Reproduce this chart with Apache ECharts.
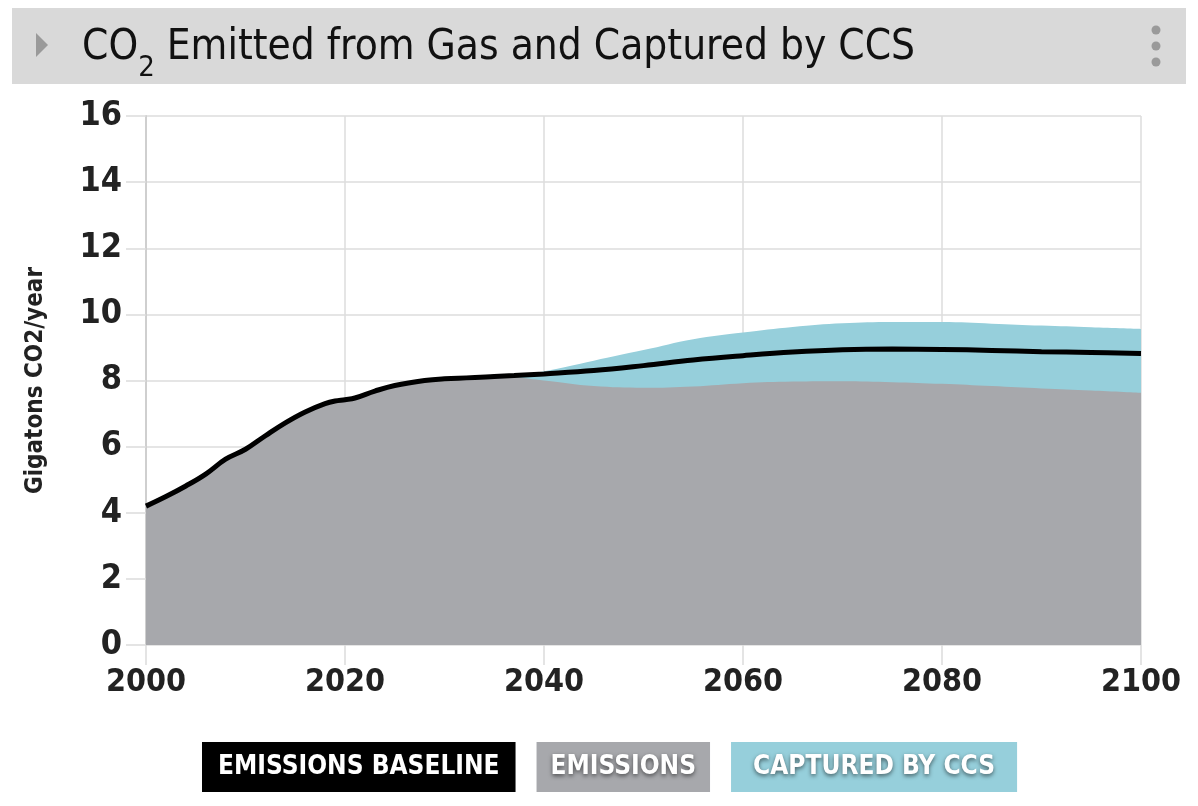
<!DOCTYPE html>
<html>
<head>
<meta charset="utf-8">
<script src="https://cdn.jsdelivr.net/npm/echarts@6/dist/echarts.min.js"></script>
<style>
html,body{margin:0;padding:0;background:#fff;}
#chart{width:1198px;height:806px;}
</style>
</head>
<body>
<div id="chart"></div>
<script>
const years = [2000,2002,2004,2006,2008,2010,2012,2014,2016,2018,2019,2020,2021,2023,2025,2028,2030,2035,2037,2040,2045,2050,2055,2060,2065,2070,2075,2080,2085,2090,2095,2100];
const baseline = [4.2,4.49,4.81,5.17,5.62,5.92,6.33,6.72,7.05,7.3,7.38,7.42,7.47,7.68,7.85,8.0,8.05,8.12,8.15,8.2,8.3,8.45,8.62,8.75,8.86,8.93,8.95,8.94,8.91,8.87,8.85,8.82];
const emissions = [4.2,4.49,4.81,5.17,5.62,5.92,6.33,6.72,7.05,7.3,7.38,7.42,7.47,7.68,7.85,8.0,8.05,8.12,8.1,8.0,7.83,7.78,7.82,7.92,7.97,7.98,7.95,7.9,7.83,7.76,7.7,7.63];
const captured = [0,0,0,0,0,0,0,0,0,0,0,0,0,0,0,0,0,0,0.03,0.28,0.77,1.14,1.43,1.53,1.65,1.75,1.82,1.87,1.89,1.9,1.91,1.93];
const xTicks = [2000,2020,2040,2060,2080,2100];
const yTicks = [0,2,4,6,8,10,12,14,16];
const seriesNames = ['EMISSIONS BASELINE','EMISSIONS','CAPTURED BY CCS'];

const pair = (arr) => years.map((y,i) => [y, arr[i]]);
// captured is stacked on top of emissions
const stackedTop = years.map((y,i) => [y, emissions[i] + captured[i]]);
const condensed = '"Liberation Sans Narrow","DejaVu Sans Condensed","Roboto",sans-serif';

const chart = echarts.init(document.getElementById('chart'));
chart.setOption({
  animation: false,
  backgroundColor: '#fff',
  title: {
    text: '{a|CO}{s|2}{a| Emitted from Gas and Captured by CCS}',
    left: 77, top: 22,
    textStyle: {
      fontWeight: 'normal',
      rich: {
        a: {fontFamily: condensed, fontSize: 42, fontWeight: 'normal', lineHeight: 48, color: '#111', verticalAlign: 'top'},
        s: {fontFamily: condensed, fontSize: 29, fontWeight: 'normal', lineHeight: 29, color: '#111', verticalAlign: 'bottom', padding: [0,0,-8,0]}
      }
    }
  },
  graphic: [
    {type: 'rect', z: -1, shape: {x: 12, y: 8, width: 1174, height: 76}, style: {fill: '#d9d9d9'}},
    {type: 'polygon', shape: {points: [[36,33],[48,45],[36,57]]}, style: {fill: '#9a9a9a'}},
    {type: 'circle', shape: {cx: 1156, cy: 30, r: 4.5}, style: {fill: '#9a9a9a'}},
    {type: 'circle', shape: {cx: 1156, cy: 46, r: 4.5}, style: {fill: '#9a9a9a'}},
    {type: 'circle', shape: {cx: 1156, cy: 62, r: 4.5}, style: {fill: '#9a9a9a'}}
  ],
  legend: {
    top: 742, left: 197, padding: 0,
    itemWidth: 0, itemHeight: 0, itemGap: 16,
    icon: 'rect',
    selectedMode: false,
    data: [
      {name: seriesNames[0], textStyle: {color: '#fff', backgroundColor: '#000', padding: [12,16,12,16]}},
      {name: seriesNames[1], textStyle: {color: '#fff', backgroundColor: '#a7a8ac', padding: [12,14,12,14], textShadowColor: 'rgba(0,0,0,0.55)', textShadowBlur: 4, textShadowOffsetY: 2}},
      {name: seriesNames[2], textStyle: {color: '#fff', backgroundColor: '#96cfdb', padding: [12,22,12,22], textShadowColor: 'rgba(0,0,0,0.55)', textShadowBlur: 4, textShadowOffsetY: 2}}
    ],
    textStyle: {fontFamily: condensed, fontWeight: 'bold', fontSize: 26}
  },
  grid: {left: 146, right: 57, top: 116, bottom: 161},
  xAxis: {
    type: 'value', min: 2000, max: 2100, interval: 20,
    axisLine: {show: false},
    axisTick: {show: true, length: 20, lineStyle: {color: '#dcdcdc', width: 1.5}},
    splitLine: {show: true, lineStyle: {color: '#dcdcdc', width: 1.5}},
    axisLabel: {
      margin: 22, color: '#222', fontFamily: condensed, fontWeight: 'bold', fontSize: 32,
      formatter: v => xTicks.includes(v) ? String(v) : ''
    }
  },
  yAxis: {
    type: 'value', min: 0, max: 16, interval: 2,
    name: 'Gigatons CO2/year', nameLocation: 'middle', nameGap: 98, nameRotate: 90,
    nameTextStyle: {color: '#222', fontFamily: condensed, fontWeight: 'bold', fontSize: 24},
    axisLine: {show: true, lineStyle: {color: '#cfcfcf', width: 2}},
    axisTick: {show: true, length: 20, lineStyle: {color: '#dcdcdc', width: 1.5}},
    splitLine: {show: true, lineStyle: {color: '#dcdcdc', width: 1.5}},
    axisLabel: {
      margin: 24, color: '#222', fontFamily: condensed, fontWeight: 'bold', fontSize: 34,
      formatter: v => yTicks.includes(v) ? String(v) : ''
    }
  },
  series: [
    {
      name: seriesNames[2], type: 'line', data: stackedTop,
      smooth: 0.4, showSymbol: false, symbol: 'none',
      lineStyle: {width: 0}, itemStyle: {color: '#96cfdb'},
      areaStyle: {color: '#96cfdb', opacity: 1}, z: 2
    },
    {
      name: seriesNames[1], type: 'line', data: pair(emissions),
      smooth: 0.4, showSymbol: false, symbol: 'none',
      lineStyle: {width: 0}, itemStyle: {color: '#a7a8ac'},
      areaStyle: {color: '#a7a8ac', opacity: 1}, z: 3
    },
    {
      name: seriesNames[0], type: 'line', data: pair(baseline),
      smooth: 0.4, showSymbol: false, symbol: 'none',
      lineStyle: {width: 5, color: '#000'}, itemStyle: {color: '#000'}, z: 5
    }
  ]
});
</script>
</body>
</html>
